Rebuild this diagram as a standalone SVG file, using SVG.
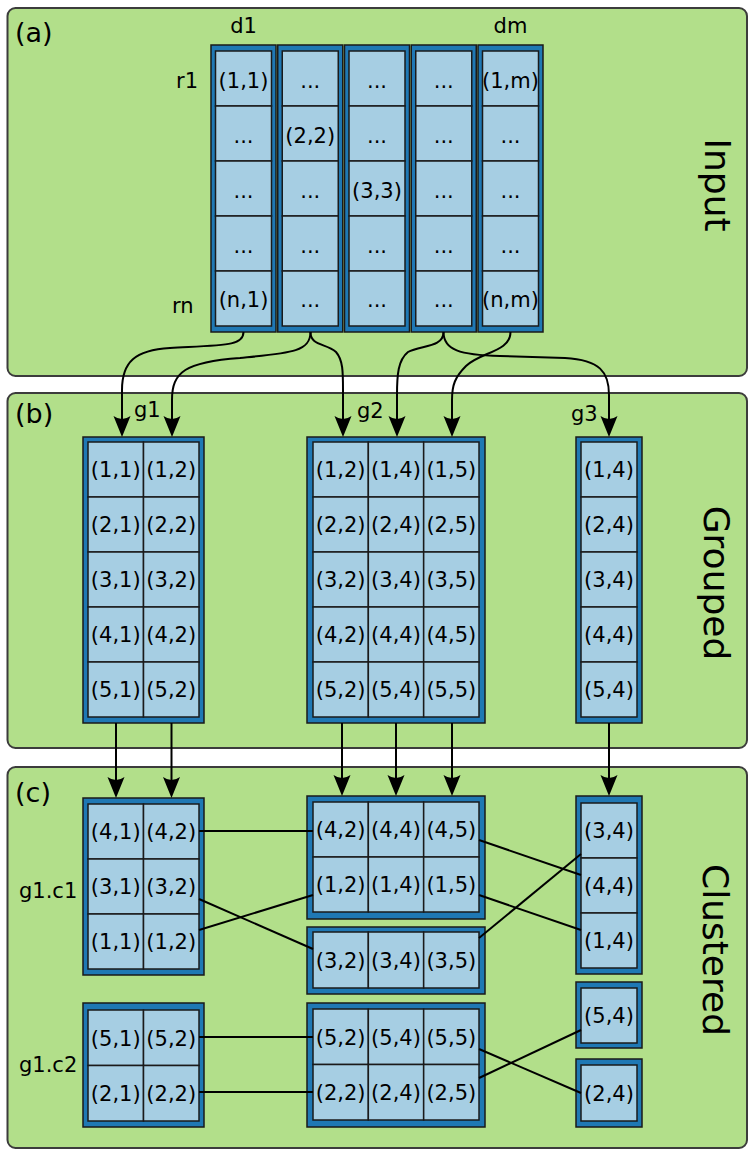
<svg xmlns="http://www.w3.org/2000/svg" width="750" height="1151" viewBox="0 0 750 1151">
<style>
.panel{fill:#b2df8a;stroke:#3c3c3c;stroke-width:2}
.outer{fill:#1f78b4;stroke:#1a1a1a;stroke-width:1.5}
.cell{fill:#a6cee3;stroke:#1a1a1a;stroke-width:1.5}
text{font-family:"DejaVu Sans","Liberation Sans",sans-serif;fill:#000}
.t{font-size:21px;text-anchor:middle}
.lbl{font-size:21px}
.pl{font-size:27px}
.side{font-size:36px;text-anchor:middle}
.conn{fill:none;stroke:#000;stroke-width:2}
.arr{fill:none;stroke:#000;stroke-width:2;marker-end:url(#ah)}
</style>
<defs>
<marker id="ah" markerUnits="userSpaceOnUse" viewBox="-22 -10 28 20" markerWidth="28" markerHeight="20" refX="-5" refY="0" orient="auto">
<path d="M0,0 L-21,-8.5 Q-15,0 -21,8.5 Z" fill="#000"/>
</marker>
</defs>
<rect width="750" height="1151" fill="#fff"/>

<g id="panel-a">
<rect class="panel" x="7.5" y="8" width="739.5" height="368" rx="8"/>
<text class="pl" x="15" y="41.5">(a)</text>
<text class="side" transform="translate(705,185) rotate(90)">Input</text>
<text class="lbl" x="243.5" y="33" text-anchor="middle">d1</text>
<text class="lbl" x="510.5" y="33" text-anchor="middle">dm</text>
<text class="lbl" x="176" y="88">r1</text>
<text class="lbl" x="172" y="313">rn</text>
</g>
<g id="panel-b">
<rect class="panel" x="7.5" y="393" width="739.5" height="355" rx="8"/>
<text class="pl" x="15" y="423">(b)</text>
<text class="side" transform="translate(704,583) rotate(90)">Grouped</text>
<text class="lbl" x="134" y="417">g1</text>
<text class="lbl" x="357" y="418">g2</text>
<text class="lbl" x="571" y="421">g3</text>
</g>
<g id="panel-c">
<rect class="panel" x="7.5" y="767" width="739.5" height="381" rx="8"/>
<text class="pl" x="15" y="802">(c)</text>
<text class="side" transform="translate(703,950) rotate(90)">Clustered</text>
<text class="lbl" x="19" y="898">g1.c1</text>
<text class="lbl" x="19" y="1072">g1.c2</text>
</g>

<g id="col-d1">
<rect class="outer" x="211" y="45" width="65" height="287"/>
<rect class="cell" x="215.5" y="51" width="56" height="55"/><rect class="cell" x="215.5" y="106" width="56" height="55"/><rect class="cell" x="215.5" y="161" width="56" height="55"/><rect class="cell" x="215.5" y="216" width="56" height="55"/><rect class="cell" x="215.5" y="271" width="56" height="55"/>
<text class="t" x="243.5" y="87.5">(1,1)</text><text class="t" x="243.5" y="142.5">...</text><text class="t" x="243.5" y="197.5">...</text><text class="t" x="243.5" y="252.5">...</text><text class="t" x="243.5" y="307">(n,1)</text>
</g>
<g id="col-d2">
<rect class="outer" x="277.75" y="45" width="65" height="287"/>
<rect class="cell" x="282.25" y="51" width="56" height="55"/><rect class="cell" x="282.25" y="106" width="56" height="55"/><rect class="cell" x="282.25" y="161" width="56" height="55"/><rect class="cell" x="282.25" y="216" width="56" height="55"/><rect class="cell" x="282.25" y="271" width="56" height="55"/>
<text class="t" x="310.25" y="87.5">...</text><text class="t" x="310.25" y="142.5">(2,2)</text><text class="t" x="310.25" y="197.5">...</text><text class="t" x="310.25" y="252.5">...</text><text class="t" x="310.25" y="307">...</text>
</g>
<g id="col-d3">
<rect class="outer" x="344.5" y="45" width="65" height="287"/>
<rect class="cell" x="349" y="51" width="56" height="55"/><rect class="cell" x="349" y="106" width="56" height="55"/><rect class="cell" x="349" y="161" width="56" height="55"/><rect class="cell" x="349" y="216" width="56" height="55"/><rect class="cell" x="349" y="271" width="56" height="55"/>
<text class="t" x="377" y="87.5">...</text><text class="t" x="377" y="142.5">...</text><text class="t" x="377" y="197.5">(3,3)</text><text class="t" x="377" y="252.5">...</text><text class="t" x="377" y="307">...</text>
</g>
<g id="col-d4">
<rect class="outer" x="411.25" y="45" width="65" height="287"/>
<rect class="cell" x="415.75" y="51" width="56" height="55"/><rect class="cell" x="415.75" y="106" width="56" height="55"/><rect class="cell" x="415.75" y="161" width="56" height="55"/><rect class="cell" x="415.75" y="216" width="56" height="55"/><rect class="cell" x="415.75" y="271" width="56" height="55"/>
<text class="t" x="443.75" y="87.5">...</text><text class="t" x="443.75" y="142.5">...</text><text class="t" x="443.75" y="197.5">...</text><text class="t" x="443.75" y="252.5">...</text><text class="t" x="443.75" y="307">...</text>
</g>
<g id="col-dm">
<rect class="outer" x="478" y="45" width="65" height="287"/>
<rect class="cell" x="482.5" y="51" width="56" height="55"/><rect class="cell" x="482.5" y="106" width="56" height="55"/><rect class="cell" x="482.5" y="161" width="56" height="55"/><rect class="cell" x="482.5" y="216" width="56" height="55"/><rect class="cell" x="482.5" y="271" width="56" height="55"/>
<text class="t" x="510.5" y="87.5">(1,m)</text><text class="t" x="510.5" y="142.5">...</text><text class="t" x="510.5" y="197.5">...</text><text class="t" x="510.5" y="252.5">...</text><text class="t" x="510.5" y="307">(n,m)</text>
</g>

<g id="g1">
<rect class="outer" x="83" y="437" width="121" height="286"/>
<rect class="cell" x="88" y="442" width="55.5" height="55"/><rect class="cell" x="143.5" y="442" width="55.5" height="55"/>
<rect class="cell" x="88" y="497" width="55.5" height="55"/><rect class="cell" x="143.5" y="497" width="55.5" height="55"/>
<rect class="cell" x="88" y="552" width="55.5" height="55"/><rect class="cell" x="143.5" y="552" width="55.5" height="55"/>
<rect class="cell" x="88" y="607" width="55.5" height="55"/><rect class="cell" x="143.5" y="607" width="55.5" height="55"/>
<rect class="cell" x="88" y="662" width="55.5" height="55"/><rect class="cell" x="143.5" y="662" width="55.5" height="55"/>
<text class="t" x="115.75" y="477">(1,1)</text><text class="t" x="171.25" y="477">(1,2)</text>
<text class="t" x="115.75" y="532">(2,1)</text><text class="t" x="171.25" y="532">(2,2)</text>
<text class="t" x="115.75" y="587">(3,1)</text><text class="t" x="171.25" y="587">(3,2)</text>
<text class="t" x="115.75" y="642">(4,1)</text><text class="t" x="171.25" y="642">(4,2)</text>
<text class="t" x="115.75" y="697">(5,1)</text><text class="t" x="171.25" y="697">(5,2)</text>
</g>
<g id="g2">
<rect class="outer" x="307" y="437" width="178" height="286"/>
<rect class="cell" x="313" y="442" width="55.33" height="55"/><rect class="cell" x="368.33" y="442" width="55.33" height="55"/><rect class="cell" x="423.67" y="442" width="55.33" height="55"/>
<rect class="cell" x="313" y="497" width="55.33" height="55"/><rect class="cell" x="368.33" y="497" width="55.33" height="55"/><rect class="cell" x="423.67" y="497" width="55.33" height="55"/>
<rect class="cell" x="313" y="552" width="55.33" height="55"/><rect class="cell" x="368.33" y="552" width="55.33" height="55"/><rect class="cell" x="423.67" y="552" width="55.33" height="55"/>
<rect class="cell" x="313" y="607" width="55.33" height="55"/><rect class="cell" x="368.33" y="607" width="55.33" height="55"/><rect class="cell" x="423.67" y="607" width="55.33" height="55"/>
<rect class="cell" x="313" y="662" width="55.33" height="55"/><rect class="cell" x="368.33" y="662" width="55.33" height="55"/><rect class="cell" x="423.67" y="662" width="55.33" height="55"/>
<text class="t" x="340.67" y="477">(1,2)</text><text class="t" x="396" y="477">(1,4)</text><text class="t" x="451.33" y="477">(1,5)</text>
<text class="t" x="340.67" y="532">(2,2)</text><text class="t" x="396" y="532">(2,4)</text><text class="t" x="451.33" y="532">(2,5)</text>
<text class="t" x="340.67" y="587">(3,2)</text><text class="t" x="396" y="587">(3,4)</text><text class="t" x="451.33" y="587">(3,5)</text>
<text class="t" x="340.67" y="642">(4,2)</text><text class="t" x="396" y="642">(4,4)</text><text class="t" x="451.33" y="642">(4,5)</text>
<text class="t" x="340.67" y="697">(5,2)</text><text class="t" x="396" y="697">(5,4)</text><text class="t" x="451.33" y="697">(5,5)</text>
</g>
<g id="g3">
<rect class="outer" x="576" y="437" width="66" height="286"/>
<rect class="cell" x="581" y="442" width="56" height="55"/><rect class="cell" x="581" y="497" width="56" height="55"/><rect class="cell" x="581" y="552" width="56" height="55"/><rect class="cell" x="581" y="607" width="56" height="55"/><rect class="cell" x="581" y="662" width="56" height="55"/>
<text class="t" x="609" y="477">(1,4)</text><text class="t" x="609" y="532">(2,4)</text><text class="t" x="609" y="587">(3,4)</text><text class="t" x="609" y="642">(4,4)</text><text class="t" x="609" y="697">(5,4)</text>
</g>

<g id="g1-c1">
<rect class="outer" x="83" y="798" width="121" height="177"/>
<rect class="cell" x="88" y="804" width="55.5" height="55"/><rect class="cell" x="143.5" y="804" width="55.5" height="55"/>
<rect class="cell" x="88" y="859" width="55.5" height="55"/><rect class="cell" x="143.5" y="859" width="55.5" height="55"/>
<rect class="cell" x="88" y="914" width="55.5" height="55"/><rect class="cell" x="143.5" y="914" width="55.5" height="55"/>
<text class="t" x="115.75" y="839">(4,1)</text><text class="t" x="171.25" y="839">(4,2)</text>
<text class="t" x="115.75" y="894">(3,1)</text><text class="t" x="171.25" y="894">(3,2)</text>
<text class="t" x="115.75" y="949">(1,1)</text><text class="t" x="171.25" y="949">(1,2)</text>
</g>
<g id="g1-c2">
<rect class="outer" x="83" y="1003" width="121" height="124"/>
<rect class="cell" x="88" y="1010" width="55.5" height="55.5"/><rect class="cell" x="143.5" y="1010" width="55.5" height="55.5"/>
<rect class="cell" x="88" y="1065.5" width="55.5" height="55.5"/><rect class="cell" x="143.5" y="1065.5" width="55.5" height="55.5"/>
<text class="t" x="115.75" y="1045.5">(5,1)</text><text class="t" x="171.25" y="1045.5">(5,2)</text>
<text class="t" x="115.75" y="1100.5">(2,1)</text><text class="t" x="171.25" y="1100.5">(2,2)</text>
</g>
<g id="g2-c1a">
<rect class="outer" x="307" y="796" width="178" height="123"/>
<rect class="cell" x="313" y="802" width="55.33" height="55"/><rect class="cell" x="368.33" y="802" width="55.33" height="55"/><rect class="cell" x="423.67" y="802" width="55.33" height="55"/>
<rect class="cell" x="313" y="857" width="55.33" height="55"/><rect class="cell" x="368.33" y="857" width="55.33" height="55"/><rect class="cell" x="423.67" y="857" width="55.33" height="55"/>
<text class="t" x="340.67" y="837">(4,2)</text><text class="t" x="396" y="837">(4,4)</text><text class="t" x="451.33" y="837">(4,5)</text>
<text class="t" x="340.67" y="892">(1,2)</text><text class="t" x="396" y="892">(1,4)</text><text class="t" x="451.33" y="892">(1,5)</text>
</g>
<g id="g2-c1b">
<rect class="outer" x="307" y="927" width="178" height="67"/>
<rect class="cell" x="313" y="932" width="55.33" height="56"/><rect class="cell" x="368.33" y="932" width="55.33" height="56"/><rect class="cell" x="423.67" y="932" width="55.33" height="56"/>
<text class="t" x="340.67" y="967.5">(3,2)</text><text class="t" x="396" y="967.5">(3,4)</text><text class="t" x="451.33" y="967.5">(3,5)</text>
</g>
<g id="g2-c2">
<rect class="outer" x="307" y="1003" width="178" height="124"/>
<rect class="cell" x="313" y="1009" width="55.33" height="55.5"/><rect class="cell" x="368.33" y="1009" width="55.33" height="55.5"/><rect class="cell" x="423.67" y="1009" width="55.33" height="55.5"/>
<rect class="cell" x="313" y="1064.5" width="55.33" height="55.5"/><rect class="cell" x="368.33" y="1064.5" width="55.33" height="55.5"/><rect class="cell" x="423.67" y="1064.5" width="55.33" height="55.5"/>
<text class="t" x="340.67" y="1044.5">(5,2)</text><text class="t" x="396" y="1044.5">(5,4)</text><text class="t" x="451.33" y="1044.5">(5,5)</text>
<text class="t" x="340.67" y="1099.5">(2,2)</text><text class="t" x="396" y="1099.5">(2,4)</text><text class="t" x="451.33" y="1099.5">(2,5)</text>
</g>
<g id="g3-c1">
<rect class="outer" x="576" y="796" width="66" height="178"/>
<rect class="cell" x="581" y="803" width="56" height="55"/><rect class="cell" x="581" y="858" width="56" height="55"/><rect class="cell" x="581" y="913" width="56" height="55"/>
<text class="t" x="609" y="838">(3,4)</text><text class="t" x="609" y="893">(4,4)</text><text class="t" x="609" y="948">(1,4)</text>
</g>
<g id="g3-c2a">
<rect class="outer" x="576" y="982" width="66" height="66"/>
<rect class="cell" x="581" y="988" width="56" height="55"/>
<text class="t" x="609" y="1023">(5,4)</text>
</g>
<g id="g3-c2b">
<rect class="outer" x="576" y="1059" width="66" height="68"/>
<rect class="cell" x="581" y="1065" width="56" height="56"/>
<text class="t" x="609" y="1100.5">(2,4)</text>
</g>

<g id="connectors">
<path class="arr" d="M243.5,332 C243.5,346 225,345 170,348 C135,350 122,362 122,390 L122,432"/>
<path class="arr" d="M310.5,332 C310.5,352 290,353 240,358 C185,362 172,372 172,400 L172,432"/>
<path class="arr" d="M310.5,332 C310.5,346 326,343 336,352 C343,360 343,372 343,390 L343,432"/>
<path class="arr" d="M443.5,332 C443.5,348 420,345 408,352 C398,360 397,375 397,395 L397,432"/>
<path class="arr" d="M443.5,332 C443.5,350 460,355 500,356 L565,358 C600,360 609,372 609,395 L609,432"/>
<path class="arr" d="M510.5,332 C510.5,352 480,352 466,366 C455,377 452,385 452,400 L452,432"/>
<path class="arr" d="M116,723 L116,793"/>
<path class="arr" d="M171.5,723 L171.5,793"/>
<path class="arr" d="M342,723 L342,791"/>
<path class="arr" d="M396,723 L396,791"/>
<path class="arr" d="M452,723 L452,791"/>
<path class="arr" d="M609,723 L609,791"/>
<path class="conn" d="M199,831 L313,831"/>
<path class="conn" d="M199,899 L313,949"/>
<path class="conn" d="M199,930 L313,895"/>
<path class="conn" d="M479,840 L581,875"/>
<path class="conn" d="M479,895 L581,930"/>
<path class="conn" d="M479,938 L581,854"/>
<path class="conn" d="M199,1037 L313,1037"/>
<path class="conn" d="M199,1092 L313,1092"/>
<path class="conn" d="M479,1049 L581,1093"/>
<path class="conn" d="M479,1078 L581,1030"/>
</g>
</svg>
